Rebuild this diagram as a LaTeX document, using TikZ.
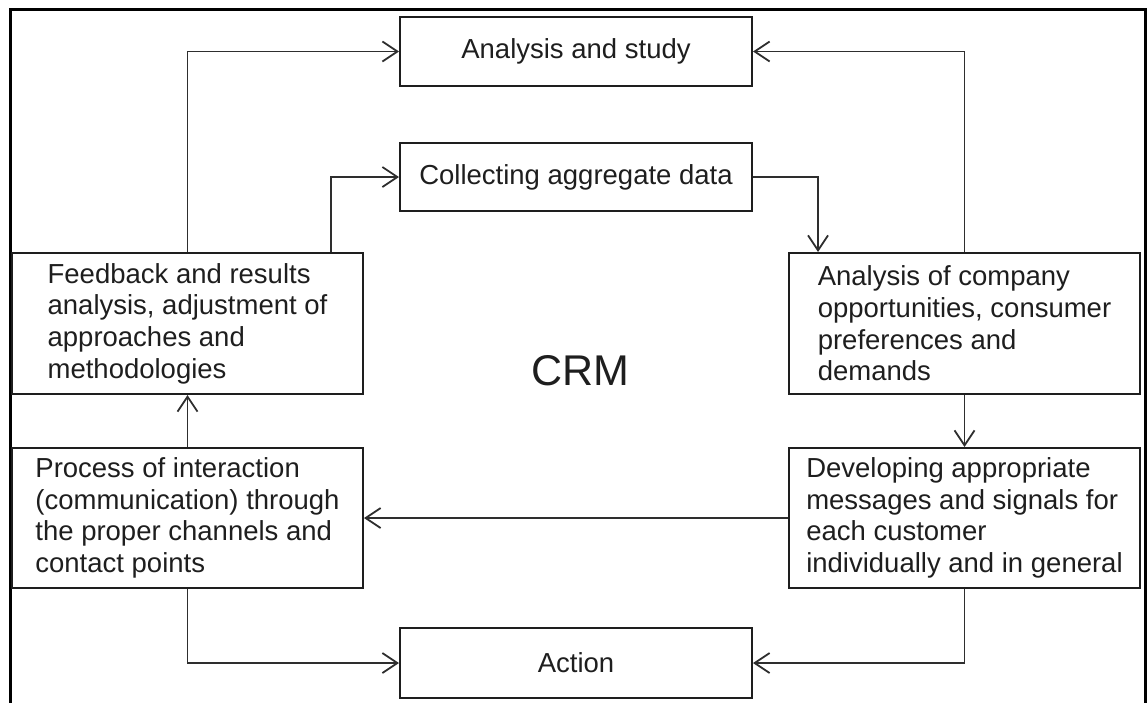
\documentclass[tikz,border=0pt]{standalone}
\usepackage{fontspec}
\setmainfont{Liberation Sans}
\usetikzlibrary{arrows.meta}
\definecolor{ink}{HTML}{1E1E1E}
\definecolor{wire}{HTML}{2E2E2E}
\tikzset{
  box/.style={draw=ink, line width=2pt, inner sep=0pt, align=left, text=ink,
    font=\fontsize{27.5}{31.6}\selectfont},
  arr/.style={draw=wire, line width=1.8pt, -{Straight Barb[length=15pt,width=20pt,line width=1.8pt]}},
}
\begin{document}
\begin{tikzpicture}[x=1pt,y=-1pt]
\useasboundingbox (0,0) rectangle (1147,702);
\draw[line width=3pt, black] (10,705) -- (10,9) -- (1145,9) -- (1145,705);

\node[box, minimum width=352pt, minimum height=69pt] (study) at (576,51.5) {Analysis and study};
\node[box, minimum width=352pt, minimum height=68pt] (collect) at (576,177) {Collecting aggregate data};
\node[box, minimum width=351pt, minimum height=141pt] (feedback) at (187.5,323.5)
  {Feedback and results\\analysis, adjustment of\\approaches and\\methodologies};
\node[box, minimum width=351pt, minimum height=141pt] (company) at (964.5,323.5)
  {Analysis of company\\opportunities, consumer\\preferences and\\demands};
\node[box, minimum width=351pt, minimum height=140pt] (process) at (187.5,518)
  {Process of interaction\\(communication) through\\the proper channels and\\contact points};
\node[box, minimum width=351pt, minimum height=140pt] (develop) at (964.5,518)
  {Developing appropriate\\messages and signals for\\each customer\\individually and in general};
\node[box, minimum width=352pt, minimum height=70pt] (action) at (576,663) {Action};
\node[text=ink, font=\fontsize{43}{48}\selectfont] (crm) at (580,371) {CRM};

\draw[arr] (feedback.north) |- (study.west);
\draw[arr] ([xshift=143.5pt]feedback.north) |- (collect.west);
\draw[arr] (collect.east) -| ([xshift=-146.5pt]company.north);
\draw[arr] (company.north) |- (study.east);
\draw[arr] (company.south) -- (develop.north);
\draw[arr] (develop.west) -- (process.east);
\draw[arr] (process.north) -- (feedback.south);
\draw[arr] (process.south) |- (action.west);
\draw[arr] (develop.south) |- (action.east);
\end{tikzpicture}
\end{document}
